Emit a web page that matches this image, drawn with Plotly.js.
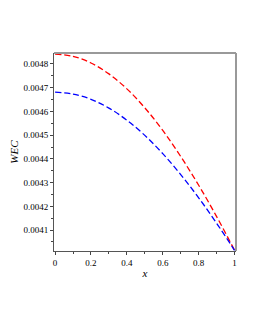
<!DOCTYPE html>
<html>
<head>
<meta charset="utf-8">
<script src="https://cdn.plot.ly/plotly-3.0.1.min.js"></script>
<style>html,body{margin:0;padding:0;background:#fff;}#chart{width:255px;height:330px;}</style>
</head>
<body>
<div id="chart"></div>
<script>
const xValues = [0, 0.1, 0.2, 0.3, 0.4, 0.5, 0.6, 0.7, 0.8, 0.9, 1];
const redSeries = [0.004841, 0.004832, 0.004804, 0.004758, 0.004695, 0.004615, 0.004520, 0.004410, 0.004289, 0.004157, 0.004015];
const blueSeries = [0.004681, 0.004673, 0.004651, 0.004614, 0.004563, 0.004499, 0.004422, 0.004334, 0.004236, 0.004129, 0.004015];
const xTickVals = [0, 0.2, 0.4, 0.6, 0.8, 1];
const xTickText = ["0", "0.2", "0.4", "0.6", "0.8", "1"];
const yTickVals = [0.0041, 0.0042, 0.0043, 0.0044, 0.0045, 0.0046, 0.0047, 0.0048];
const yTickText = ["0.0041", "0.0042", "0.0043", "0.0044", "0.0045", "0.0046", "0.0047", "0.0048"];

const font = {family: "Liberation Serif, Times New Roman, serif", size: 9, color: "#000"};
const traces = [
  {x: xValues, y: redSeries, mode: "lines", line: {color: "#ff0000", width: 1.3, dash: "6px,3px", shape: "spline", smoothing: 1}, hoverinfo: "none"},
  {x: xValues, y: blueSeries, mode: "lines", line: {color: "#0000ff", width: 1.3, dash: "6px,3px", shape: "spline", smoothing: 1}, hoverinfo: "none"}
];
const layout = {
  width: 255, height: 330,
  margin: {l: 54, r: 19, t: 53, b: 79},
  paper_bgcolor: "#fff", plot_bgcolor: "#fff",
  showlegend: false,
  font: font,
  xaxis: {
    range: [-0.006, 1.008],
    tickvals: xTickVals, ticktext: xTickText,
    ticks: "outside", ticklen: 3, tickwidth: 1, tickcolor: "#444",
    minor: {dtick: 0.1, ticks: "outside", ticklen: 2, tickcolor: "#444"},
    showgrid: false, zeroline: false,
    showline: true, linecolor: "#555", linewidth: 1,
    tickfont: font,
    title: {text: "<i>x</i>", font: {family: font.family, size: 11, color: "#000"}, standoff: 2}
  },
  yaxis: {
    range: [0.004012, 0.004846],
    tickvals: yTickVals, ticktext: yTickText,
    ticks: "outside", ticklen: 3, tickwidth: 1, tickcolor: "#444",
    minor: {dtick: 0.00005, ticks: "outside", ticklen: 2, tickcolor: "#444"},
    showgrid: false, zeroline: false,
    showline: true, linecolor: "#555", linewidth: 1,
    tickfont: font,
    title: {text: "<i>WEC</i>", font: {family: font.family, size: 11, color: "#000"}, standoff: 2}
  },
  shapes: [
    {type: "line", xref: "paper", yref: "paper", x0: 0, x1: 1, y0: 1, y1: 1, line: {color: "#999", width: 2}},
    {type: "line", xref: "paper", yref: "paper", x0: 1, x1: 1, y0: 0, y1: 1, line: {color: "#999", width: 2}}
  ]
};
Plotly.newPlot("chart", traces, layout, {staticPlot: true, displayModeBar: false});
</script>
</body>
</html>
